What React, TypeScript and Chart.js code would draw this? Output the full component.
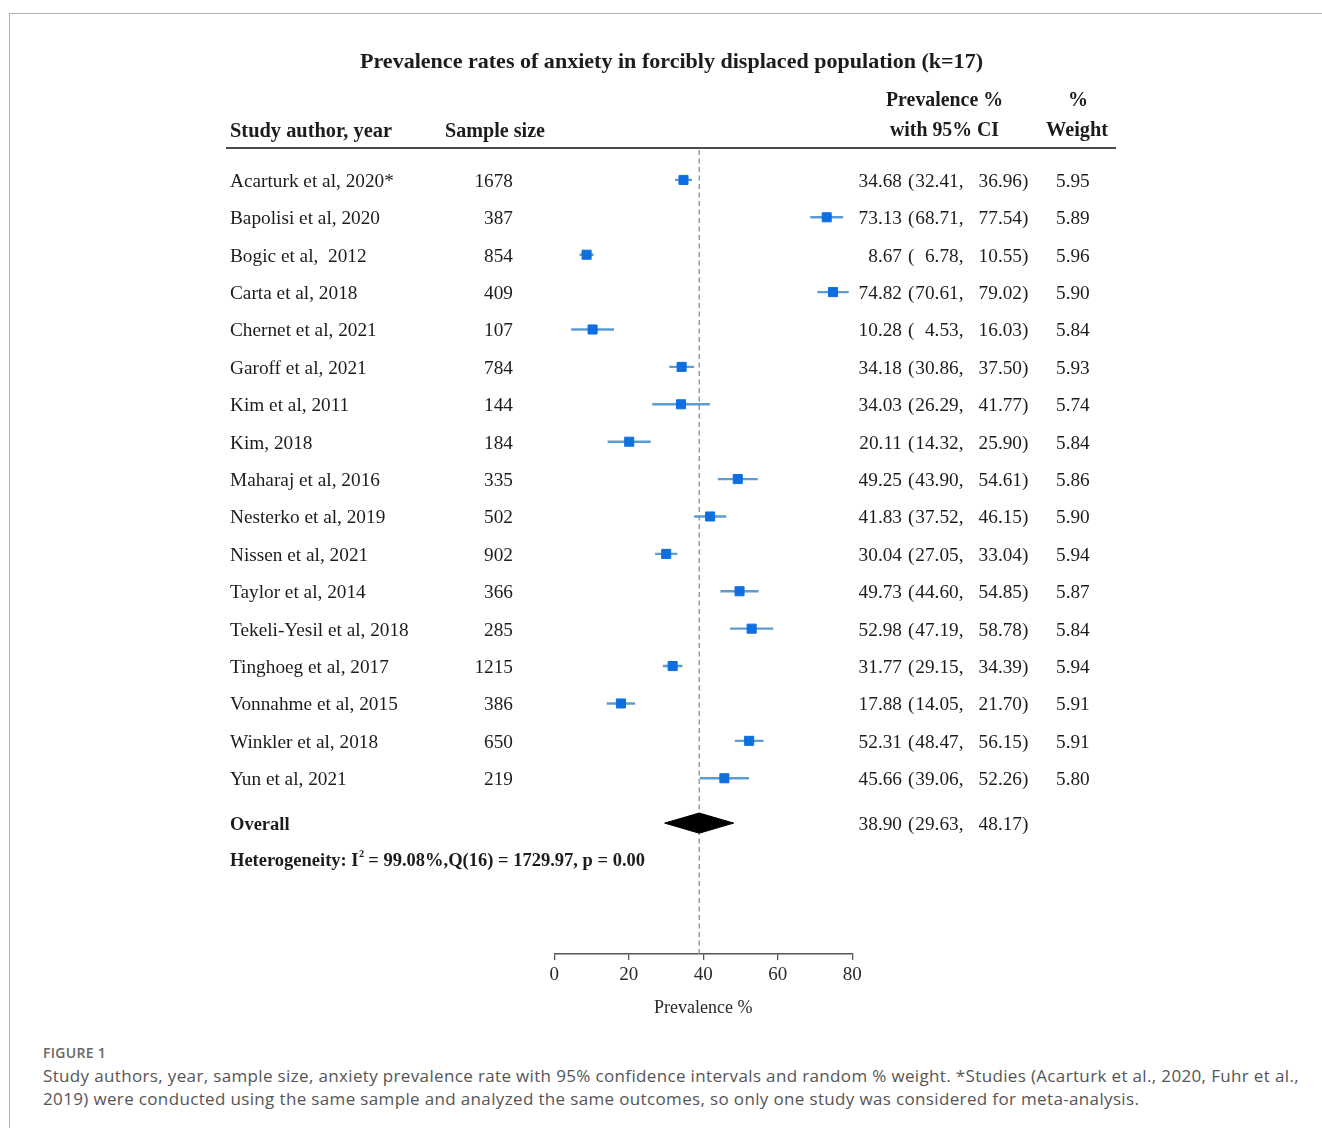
import React, { useEffect, useRef } from "react";
import { Chart, registerables } from "chart.js";
Chart.register(...registerables);

// ---------------- data ----------------
const studyLabels = [
  "Acarturk et al, 2020*",
  "Bapolisi et al, 2020",
  "Bogic et al,  2012",
  "Carta et al, 2018",
  "Chernet et al, 2021",
  "Garoff et al, 2021",
  "Kim et al, 2011",
  "Kim, 2018",
  "Maharaj et al, 2016",
  "Nesterko et al, 2019",
  "Nissen et al, 2021",
  "Taylor et al, 2014",
  "Tekeli-Yesil et al, 2018",
  "Tinghoeg et al, 2017",
  "Vonnahme et al, 2015",
  "Winkler et al, 2018",
  "Yun et al, 2021",
];
const sampleSizes = [1678, 387, 854, 409, 107, 784, 144, 184, 335, 502, 902, 366, 285, 1215, 386, 650, 219];
const estimates = [34.68, 73.13, 8.67, 74.82, 10.28, 34.18, 34.03, 20.11, 49.25, 41.83, 30.04, 49.73, 52.98, 31.77, 17.88, 52.31, 45.66];
const lowerCI = [32.41, 68.71, 6.78, 70.61, 4.53, 30.86, 26.29, 14.32, 43.9, 37.52, 27.05, 44.6, 47.19, 29.15, 14.05, 48.47, 39.06];
const upperCI = [36.96, 77.54, 10.55, 79.02, 16.03, 37.5, 41.77, 25.9, 54.61, 46.15, 33.04, 54.85, 58.78, 34.39, 21.7, 56.15, 52.26];
const weights = [5.95, 5.89, 5.96, 5.9, 5.84, 5.93, 5.74, 5.84, 5.86, 5.9, 5.94, 5.87, 5.84, 5.94, 5.91, 5.91, 5.8];
const overallEstimate = 38.9;
const overallLower = 29.63;
const overallUpper = 48.17;
const heterogeneityI2 = 99.08;
const heterogeneityQ = 1729.97;
const heterogeneityDf = 16;
const heterogeneityP = 0.0;
const xTicks = [0, 20, 40, 60, 80];

const titleText = "Prevalence rates of anxiety in forcibly displaced population (k=17)";
const captionLabel = "FIGURE 1";
const captionLine1 =
  "Study authors, year, sample size, anxiety prevalence rate with 95% confidence intervals and random % weight. *Studies (Acarturk et al., 2020, Fuhr et al.,";
const captionLine2 =
  "2019) were conducted using the same sample and analyzed the same outcomes, so only one study was considered for meta-analysis.";

// ---------------- layout / style ----------------
const W = 1322;
const CH = 1030;
const PLOT_LEFT = 554.3;
const PLOT_RIGHT = 852.3;
const PLOT_TOP = 150;
const AXIS_Y = 954;
const Y_MIN = -0.8;
const Y_MAX = 20.7;
const OVERALL_ROW = 17.2;
const HET_ROW = 18.18;
const DIAMOND_HALF = 0.27;
const TEXT_DY = 1.8;
const SERIF = "'Liberation Serif', 'Times New Roman', Times, serif";
const SANS = "'Open Sans', 'Noto Sans', sans-serif";
const TEXT = "#1c1c1c";
const MARKER = "#0d6fe0";
const CI_COLOR = "#5e9bd0";

type Align = "left" | "right" | "center";

function drawText(
  ctx: CanvasRenderingContext2D,
  s: string,
  x: number,
  y: number,
  font: string,
  align: Align = "left",
  fitWidth?: number
) {
  ctx.save();
  ctx.font = font;
  ctx.fillStyle = TEXT;
  ctx.textBaseline = "middle";
  ctx.textAlign = align;
  const yy = y + TEXT_DY;
  if (fitWidth) {
    const w = ctx.measureText(s).width;
    ctx.translate(x, yy);
    ctx.scale(fitWidth / w, 1);
    ctx.fillText(s, 0, 0);
  } else {
    ctx.fillText(s, x, yy);
  }
  ctx.restore();
}

function drawCI(ctx: CanvasRenderingContext2D, est: number, lo: number, hi: number, y: number) {
  const f = `19.3px ${SERIF}`;
  drawText(ctx, est.toFixed(2), 902, y, f, "right");
  drawText(ctx, "(", 908, y, f, "left");
  drawText(ctx, lo.toFixed(2) + ",", 963.5, y, f, "right");
  drawText(ctx, hi.toFixed(2), 1022, y, f, "right");
  drawText(ctx, ")", 1022, y, f, "left");
}

export default function App() {
  const ref = useRef<HTMLCanvasElement>(null);

  useEffect(() => {
    document.body.style.margin = "0";
    const canvas = ref.current;
    if (!canvas) return;

    const textPlugin = {
      id: "forestText",
      afterDraw(chart: any) {
        const ctx: CanvasRenderingContext2D = chart.ctx;
        const ys = chart.scales.y;

        // title
        drawText(ctx, titleText, 671.5, 61, `bold 21px ${SERIF}`, "center", 623);

        // headers
        drawText(ctx, "Study author, year", 230, 130, `bold 20px ${SERIF}`, "left", 162);
        drawText(ctx, "Sample size", 445, 130, `bold 20px ${SERIF}`, "left", 100);
        drawText(ctx, "Prevalence %", 944.5, 99, `bold 20px ${SERIF}`, "center", 117);
        drawText(ctx, "with 95% CI", 944.5, 129, `bold 20px ${SERIF}`, "center", 109);
        drawText(ctx, "%", 1078, 99, `bold 20px ${SERIF}`, "center");
        drawText(ctx, "Weight", 1077, 129, `bold 20px ${SERIF}`, "center", 62);

        // header rule
        ctx.save();
        ctx.strokeStyle = "#4a4a4a";
        ctx.lineWidth = 2.2;
        ctx.beginPath();
        ctx.moveTo(226, 148);
        ctx.lineTo(1116, 148);
        ctx.stroke();
        ctx.restore();

        // rows
        const rowFont = `19.3px ${SERIF}`;
        studyLabels.forEach((lab, i) => {
          const y = ys.getPixelForValue(i);
          drawText(ctx, lab, 230, y, rowFont, "left");
          drawText(ctx, String(sampleSizes[i]), 513, y, rowFont, "right");
          drawCI(ctx, estimates[i], lowerCI[i], upperCI[i], y);
          drawText(ctx, weights[i].toFixed(2), 1056, y, rowFont, "left");
        });

        // overall
        const oy = ys.getPixelForValue(OVERALL_ROW);
        drawText(ctx, "Overall", 230, oy, `bold 18.5px ${SERIF}`, "left");
        drawCI(ctx, overallEstimate, overallLower, overallUpper, oy);

        // heterogeneity
        const hy = ys.getPixelForValue(HET_ROW) + TEXT_DY;
        const p1 = "Heterogeneity: I";
        const p2 = "2";
        const p3 = ` = ${heterogeneityI2.toFixed(2)}%,Q(${heterogeneityDf}) = ${heterogeneityQ.toFixed(2)}, p = ${heterogeneityP.toFixed(2)}`;
        const hf = `bold 18px ${SERIF}`;
        const sf = `bold 10px ${SERIF}`;
        ctx.save();
        ctx.font = hf;
        const w1 = ctx.measureText(p1).width;
        const w3 = ctx.measureText(p3).width;
        ctx.font = sf;
        const w2 = ctx.measureText(p2).width;
        const sx = 415 / (w1 + w2 + w3);
        ctx.translate(230, hy);
        ctx.scale(sx, 1);
        ctx.fillStyle = TEXT;
        ctx.textBaseline = "middle";
        ctx.textAlign = "left";
        ctx.font = hf;
        ctx.fillText(p1, 0, 0);
        ctx.font = sf;
        ctx.fillText(p2, w1 + 0.5, -7);
        ctx.font = hf;
        ctx.fillText(p3, w1 + w2, 0);
        ctx.restore();
      },
    };

    const ciDatasets = estimates.map((_, i) => ({
      type: "line" as const,
      data: [
        { x: lowerCI[i], y: i },
        { x: upperCI[i], y: i },
      ],
      borderColor: CI_COLOR,
      borderWidth: 2.4,
      pointRadius: 0,
      fill: false,
    }));

    const chart = new Chart(canvas, {
      type: "scatter",
      data: {
        datasets: [
          {
            type: "scatter" as const,
            data: estimates.map((e, i) => ({ x: e, y: i })),
            pointStyle: "rect",
            pointRadius: 6.4,
            backgroundColor: MARKER,
            borderColor: MARKER,
            borderWidth: 1,
          },
          {
            type: "line" as const,
            data: [
              { x: overallLower, y: OVERALL_ROW },
              { x: overallEstimate, y: OVERALL_ROW - DIAMOND_HALF },
              { x: overallUpper, y: OVERALL_ROW },
              { x: overallEstimate, y: OVERALL_ROW + DIAMOND_HALF },
              { x: overallLower, y: OVERALL_ROW },
            ],
            borderColor: "#000",
            backgroundColor: "#000",
            borderWidth: 1,
            pointRadius: 0,
            fill: "shape",
            tension: 0,
          },
          ...ciDatasets,
          {
            type: "line" as const,
            data: [
              { x: overallEstimate, y: Y_MIN },
              { x: overallEstimate, y: Y_MAX },
            ],
            borderColor: "#8c8c8c",
            borderWidth: 1.3,
            borderDash: [5, 3.5],
            pointRadius: 0,
            fill: false,
          },
        ] as any,
      },
      options: {
        animation: false,
        responsive: false,
        devicePixelRatio: 1,
        layout: {
          padding: { left: PLOT_LEFT, right: W - PLOT_RIGHT, top: PLOT_TOP, bottom: 0 },
        },
        plugins: {
          legend: { display: false },
          tooltip: { enabled: false },
        },
        scales: {
          x: {
            type: "linear",
            position: "bottom",
            min: 0,
            max: 80,
            afterFit: (s: any) => {
              s.height = CH - AXIS_Y;
            },
            afterBuildTicks: (s: any) => {
              s.ticks = xTicks.map((v) => ({ value: v }));
            },
            ticks: {
              font: { family: SERIF, size: 19 },
              color: "#2a2a2a",
              padding: 4,
              maxRotation: 0,
            },
            grid: {
              drawOnChartArea: false,
              drawTicks: true,
              tickLength: 6,
              color: "#555",
              lineWidth: 1.3,
            },
            border: { display: true, color: "#555", width: 1.5 },
            title: {
              display: true,
              text: "Prevalence %",
              font: { family: SERIF, size: 18 },
              color: "#2a2a2a",
              padding: { top: 0, bottom: 11 },
            },
          },
          y: {
            type: "linear",
            display: false,
            reverse: true,
            min: Y_MIN,
            max: Y_MAX,
          },
        },
      } as any,
      plugins: [textPlugin],
    });

    return () => chart.destroy();
  }, []);

  return (
    <div style={{ position: "relative", width: W, height: 1128, overflow: "hidden", background: "#fff" }}>
      <div
        style={{
          position: "absolute",
          left: 9,
          top: 13,
          width: 1500,
          height: 1300,
          borderTop: "1.5px solid #b0b0b0",
          borderLeft: "1.5px solid #b0b0b0",
        }}
      />
      <canvas ref={ref} width={W} height={CH} style={{ position: "absolute", left: 0, top: 0 }} />
      <div
        style={{
          position: "absolute",
          left: 43,
          top: 1043,
          font: `600 14px ${SANS}`,
          color: "#666",
          letterSpacing: "0.3px",
          whiteSpace: "nowrap",
        }}
      >
        {captionLabel}
      </div>
      <div
        style={{
          position: "absolute",
          left: 43,
          top: 1064,
          font: `17px/23px ${SANS}`,
          color: "#555",
          letterSpacing: "0.35px",
          whiteSpace: "nowrap",
        }}
      >
        {captionLine1}
        <br />
        {captionLine2}
      </div>
    </div>
  );
}
